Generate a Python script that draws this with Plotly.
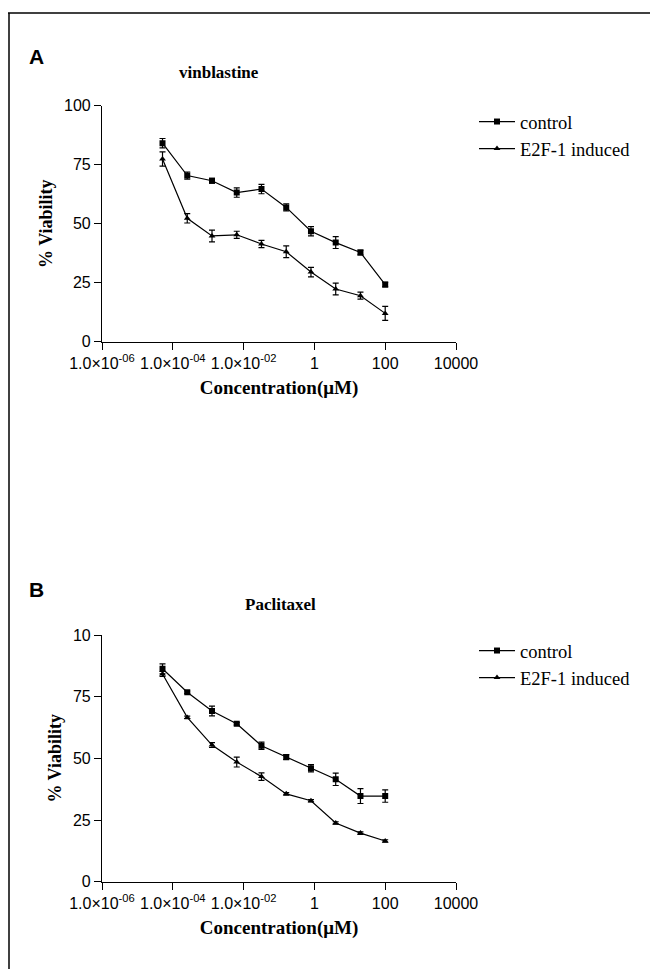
import plotly.graph_objects as go

# ---- data ----
concentration = [5.12e-5, 2.56e-4, 1.28e-3, 6.4e-3, 0.032, 0.16, 0.8, 4, 20, 100]

vin_control = [84.1, 70.4, 68.2, 63.2, 64.7, 56.9, 46.8, 42.0, 37.8, 24.2]
vin_control_err = [2.0, 1.5, 1.0, 2.0, 2.0, 1.5, 2.0, 2.5, 1.0, 1.0]
vin_e2f = [77.4, 52.3, 44.8, 45.3, 41.4, 38.1, 29.5, 22.3, 19.5, 12.0]
vin_e2f_err = [3.0, 2.0, 2.5, 1.5, 1.5, 2.5, 2.0, 2.5, 1.5, 3.0]

pac_control = [86.3, 76.8, 69.2, 64.0, 55.1, 50.5, 46.0, 41.5, 34.7, 34.7]
pac_control_err = [2.0, 0.5, 2.0, 0.5, 1.5, 1.0, 1.5, 2.5, 3.0, 2.5]
pac_e2f = [84.2, 66.6, 55.4, 48.5, 42.6, 35.6, 32.8, 23.8, 19.7, 16.5]
pac_e2f_err = [1.0, 0.5, 1.0, 2.0, 1.5, 0.5, 0.5, 0.5, 0.5, 0.5]

x_tickvals = [1e-6, 1e-4, 1e-2, 1, 100, 10000]
x_ticktext = ["1.0×10<sup>-06</sup>", "1.0×10<sup>-04</sup>", "1.0×10<sup>-02</sup>",
              "1", "100", "10000"]
y_tickvals = [0, 25, 50, 75, 100]
y_ticktext_a = ["0", "25", "50", "75", "100"]
y_ticktext_b = ["0", "25", "50", "75", "10"]

series_names = ["control", "E2F-1 induced"]
panel_titles = ["vinblastine", "Paclitaxel"]
panel_letters = ["A", "B"]

SERIF = "Liberation Serif"
SANS = "Liberation Sans"

W, H = 658, 969
OFF = 8  # page body margin shifts the figure by this many pixels


def px(x):
    return (x - OFF) / W


def py(y):
    return (H - (y - OFF)) / H


fig = go.Figure()


def add_series(y, err, name, symbol, xaxis, yaxis, legend, size):
    fig.add_trace(go.Scatter(
        x=concentration, y=y, name=name, mode="lines+markers",
        xaxis=xaxis, yaxis=yaxis, legend=legend,
        line=dict(color="black", width=1.2),
        marker=dict(symbol=symbol, size=size, color="black"),
        error_y=dict(type="data", array=err, color="black", thickness=1.2, width=3),
    ))


add_series(vin_control, vin_control_err, series_names[0], "square", "x", "y", "legend", 6)
add_series(vin_e2f, vin_e2f_err, series_names[1], "triangle-up", "x", "y", "legend", 6)
add_series(pac_control, pac_control_err, series_names[0], "square", "x2", "y2", "legend2", 6)
add_series(pac_e2f, pac_e2f_err, series_names[1], "triangle-up", "x2", "y2", "legend2", 6)

xdom = [px(102), px(456)]
ydomA = [py(341.7), py(105.7)]
ydomB = [py(881.7), py(635)]

xaxis_common = dict(
    type="log", range=[-6, 4], tickvals=x_tickvals, ticktext=x_ticktext,
    showline=True, linecolor="black", linewidth=1.2, ticks="outside", ticklen=7,
    tickcolor="black", tickwidth=1.2, showgrid=False, zeroline=False, automargin=False,
    tickfont=dict(family=SANS, size=16, color="black"),
    title=dict(text="<b>Concentration(μM)</b>", font=dict(family=SERIF, size=19, color="black"),
               standoff=9),
    domain=xdom,
)
yaxis_common = dict(
    range=[0, 100], tickvals=y_tickvals,
    showline=True, linecolor="black", linewidth=1.2, ticks="outside", ticklen=7,
    tickcolor="black", tickwidth=1.2, showgrid=False, zeroline=False, automargin=False,
    tickfont=dict(family=SANS, size=16, color="black"),
    title=dict(text="<b>% Viability</b>", font=dict(family=SERIF, size=18, color="black"),
               standoff=6),
)

legend_common = dict(
    xref="container", yref="container", xanchor="left", yanchor="top",
    font=dict(family=SERIF, size=18.5, color="black"),
    bgcolor="rgba(0,0,0,0)", borderwidth=0, tracegroupgap=0, itemwidth=36,
)

fig.update_layout(
    width=W, height=H, margin=dict(l=0, r=0, t=0, b=0, autoexpand=False),
    paper_bgcolor="white", plot_bgcolor="white", showlegend=True,
    xaxis=dict(xaxis_common, anchor="y"),
    yaxis=dict(yaxis_common, ticktext=y_ticktext_a, domain=ydomA, anchor="x"),
    xaxis2=dict(xaxis_common, anchor="y2"),
    yaxis2=dict(yaxis_common, ticktext=y_ticktext_b, domain=ydomB, anchor="x2"),
    legend=dict(legend_common, x=px(474), y=py(103)),
    legend2=dict(legend_common, x=px(474), y=py(632)),
    shapes=[
        dict(type="line", xref="paper", yref="paper", x0=px(8), x1=1, y0=py(13), y1=py(13),
             line=dict(color="black", width=1.5)),
        dict(type="line", xref="paper", yref="paper", x0=px(9), x1=px(9), y0=0, y1=py(13),
             line=dict(color="black", width=1.5)),
    ],
)

# panel titles and letters
for ttl, letter, xt, yt, yl in zip(panel_titles, panel_letters, [219, 280], [72, 604], [56, 589]):
    fig.add_annotation(text=f"<b>{ttl}</b>", xref="paper", yref="paper",
                       x=px(xt), y=py(yt), xanchor="center", yanchor="middle", showarrow=False,
                       font=dict(family=SERIF, size=17, color="black"))
    fig.add_annotation(text=f"<b>{letter}</b>", xref="paper", yref="paper",
                       x=px(27), y=py(yl), xanchor="left", yanchor="middle", showarrow=False,
                       font=dict(family=SANS, size=21, color="black"))

fig.write_html("out.html")
